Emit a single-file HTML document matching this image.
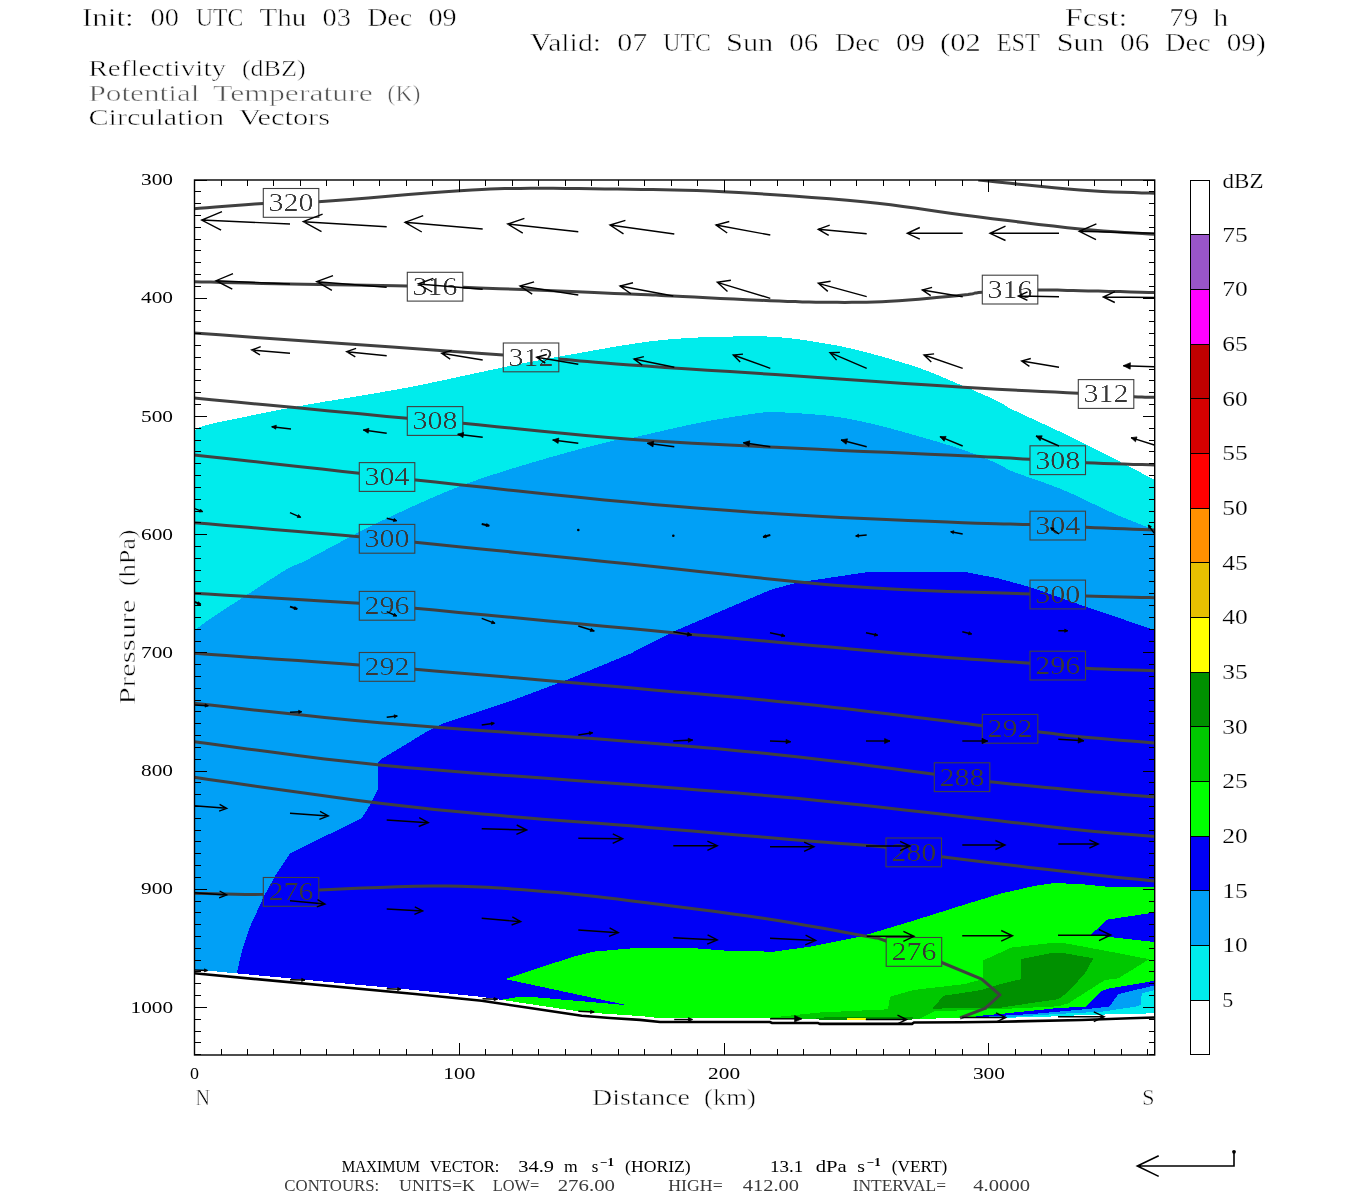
<!DOCTYPE html>
<html lang="en"><head><meta charset="utf-8"><title>Cross section: Reflectivity, Potential Temperature, Circulation Vectors</title>
<style>html,body{margin:0;padding:0;background:#fff}svg{display:block}</style></head>
<body>
<svg width="1350" height="1200" viewBox="0 0 1350 1200" font-family="'Liberation Serif', serif">
<rect width="1350" height="1200" fill="#fff"/>
<defs><clipPath id="pc"><rect x="194.5" y="180.0" width="960.2" height="875.0"/></clipPath></defs>
<g clip-path="url(#pc)" shape-rendering="crispEdges">
<polygon points="194.0,430.5 200.0,427.0 213.3,423.3 219.9,422.0 228.4,420.2 238.6,418.1 250.0,415.8 262.2,413.3 274.9,410.8 287.6,408.3 300.0,406.0 312.4,403.8 325.5,401.5 339.0,399.3 352.7,397.0 366.5,394.8 380.3,392.4 393.7,390.1 406.7,387.7 419.5,385.2 432.5,382.5 445.5,379.8 458.2,377.0 470.5,374.3 482.3,371.8 493.3,369.4 503.3,367.3 512.1,365.5 519.7,364.0 526.4,362.7 532.6,361.5 538.6,360.4 544.7,359.2 551.3,358.0 558.7,356.7 567.0,355.2 576.1,353.6 585.5,351.9 595.1,350.2 604.6,348.5 613.8,346.9 622.3,345.5 630.0,344.3 636.7,343.3 642.6,342.4 648.0,341.7 653.0,341.0 657.8,340.5 662.7,339.9 667.8,339.5 673.3,339.0 679.2,338.6 685.2,338.2 691.4,337.8 697.7,337.5 704.0,337.2 710.4,337.0 716.8,336.8 723.3,336.7 729.8,336.6 736.4,336.4 743.1,336.3 749.8,336.2 756.5,336.3 763.3,336.4 770.0,336.6 776.7,337.0 783.5,337.6 790.3,338.3 797.3,339.2 804.2,340.1 811.0,341.1 817.6,342.2 824.0,343.3 830.0,344.3 835.6,345.3 840.7,346.3 845.5,347.3 850.2,348.3 854.9,349.4 859.6,350.6 864.6,351.9 870.0,353.3 875.8,354.9 882.0,356.6 888.3,358.4 894.8,360.3 901.3,362.2 907.7,364.2 914.0,366.3 920.0,368.3 925.8,370.4 931.5,372.6 937.2,374.9 942.7,377.2 948.1,379.5 953.3,381.7 958.4,383.9 963.3,386.0 968.1,388.0 972.7,390.0 977.3,392.0 981.7,393.9 985.8,395.7 989.8,397.5 993.4,399.1 996.7,400.7 999.4,402.0 1001.2,403.1 1002.7,404.0 1004.0,404.8 1005.4,405.7 1007.2,406.8 1009.7,408.2 1013.3,410.0 1018.0,412.2 1023.5,414.8 1029.6,417.6 1036.2,420.7 1043.1,423.8 1050.0,427.0 1056.8,430.2 1063.3,433.3 1069.6,436.4 1076.0,439.5 1082.4,442.7 1088.8,445.9 1095.2,449.1 1101.4,452.2 1107.5,455.3 1113.3,458.3 1119.2,461.3 1125.2,464.5 1131.3,467.6 1137.1,470.7 1142.6,473.6 1147.5,476.2 1151.6,478.3 1154.7,480.0 1154.7,1017.5 1130.0,1018.3 1081.7,1020.0 1001.7,1021.7 961.7,1022.3 914.0,1022.5 912.0,1023.9 820.0,1023.9 818.0,1023.0 772.0,1023.0 770.0,1022.0 660.0,1022.0 640.0,1019.9 610.0,1018.0 581.7,1015.8 530.0,1008.0 481.7,1000.8 415.0,994.0 194.0,973.3" fill="#00ECEC"/>
<polygon points="194.0,630.7 195.4,629.7 197.1,628.4 199.2,626.8 201.6,625.1 204.2,623.1 207.0,621.1 210.1,618.9 213.3,616.7 216.8,614.4 220.5,611.9 224.5,609.3 228.7,606.6 233.1,603.8 237.6,600.9 242.1,598.0 246.7,595.0 251.5,591.9 256.7,588.5 262.1,584.9 267.5,581.4 272.9,577.9 278.0,574.7 282.6,571.8 286.7,569.3 289.8,567.6 291.9,566.5 293.3,565.9 294.6,565.4 296.2,564.9 298.4,564.0 301.8,562.4 306.7,560.0 313.2,556.6 321.0,552.4 329.8,547.7 339.4,542.6 349.4,537.2 359.7,531.8 370.0,526.6 380.0,521.7 389.9,517.0 400.1,512.2 410.5,507.4 421.0,502.6 431.6,498.0 442.2,493.4 452.8,489.1 463.3,485.0 473.8,481.1 484.5,477.4 495.3,473.9 506.0,470.5 516.7,467.2 527.0,464.1 537.1,461.1 546.7,458.3 556.2,455.6 565.7,452.9 575.1,450.4 584.2,448.0 592.7,445.8 600.6,443.8 607.5,442.1 613.3,440.7 617.4,439.8 619.8,439.3 621.0,439.2 621.6,439.3 622.3,439.5 623.5,439.4 625.9,439.1 630.0,438.3 636.0,437.0 643.3,435.3 651.6,433.4 660.6,431.3 670.0,429.1 679.3,427.0 688.3,425.0 696.7,423.3 704.8,421.7 713.0,420.2 721.3,418.8 729.4,417.4 737.2,416.2 744.4,415.1 751.0,414.1 756.7,413.3 761.2,412.7 764.5,412.3 767.0,412.1 769.0,411.9 770.9,411.9 773.2,412.0 776.1,412.1 780.0,412.3 785.0,412.5 790.9,412.8 797.2,413.2 804.0,413.6 810.8,414.1 817.6,414.7 824.0,415.3 830.0,416.0 835.4,416.7 840.5,417.4 845.3,418.2 850.0,419.0 854.7,420.0 859.5,421.0 864.6,422.1 870.0,423.3 875.8,424.7 882.0,426.2 888.3,427.9 894.8,429.6 901.3,431.4 907.7,433.2 914.0,435.0 920.0,436.7 925.8,438.4 931.5,440.0 937.2,441.7 942.7,443.4 948.1,445.0 953.3,446.7 958.4,448.3 963.3,450.0 968.1,451.7 972.7,453.4 977.3,455.2 981.7,457.0 985.8,458.7 989.8,460.3 993.4,461.9 996.7,463.3 999.4,464.5 1001.2,465.5 1002.7,466.4 1004.0,467.2 1005.4,468.0 1007.2,469.0 1009.7,470.2 1013.3,471.7 1018.0,473.5 1023.5,475.5 1029.6,477.6 1036.2,479.9 1043.1,482.3 1050.0,484.8 1056.8,487.4 1063.3,490.0 1069.6,492.7 1076.0,495.6 1082.4,498.7 1088.8,501.8 1095.2,504.8 1101.4,507.8 1107.5,510.7 1113.3,513.3 1119.2,515.8 1125.2,518.3 1131.3,520.8 1137.1,523.1 1142.6,525.3 1147.5,527.2 1151.6,528.8 1154.7,530.0 1154.7,1017.5 1130.0,1018.3 1081.7,1020.0 1001.7,1021.7 961.7,1022.3 914.0,1022.5 912.0,1023.9 820.0,1023.9 818.0,1023.0 772.0,1023.0 770.0,1022.0 660.0,1022.0 640.0,1019.9 610.0,1018.0 581.7,1015.8 530.0,1008.0 481.7,1000.8 415.0,994.0 194.0,973.3" fill="#01A0F6"/>
<polygon points="237.0,972.0 241.7,951.7 250.0,926.7 264.2,895.8 276.7,873.3 290.0,853.3 361.7,818.3 370.0,805.0 377.7,789.3 377.7,763.3 380.0,760.0 426.7,731.7 443.3,723.3 513.3,700.0 566.7,680.0 630.0,653.8 673.3,631.7 770.0,590.0 796.7,582.7 870.0,571.7 963.3,571.7 996.7,578.0 1030.0,587.0 1085.7,606.7 1130.0,621.7 1154.7,630.0 1154.7,1017.5 1130.0,1018.3 1081.7,1020.0 1001.7,1021.7 961.7,1022.3 914.0,1022.5 912.0,1023.9 820.0,1023.9 818.0,1023.0 772.0,1023.0 770.0,1022.0 660.0,1022.0 640.0,1019.9 610.0,1018.0 581.7,1015.8 530.0,1008.0 481.7,1000.8 415.0,994.0 237.0,977.3" fill="#0000F6"/>
<polygon points="505.0,979.0 573.3,956.7 593.3,951.7 630.0,948.5 636.7,947.7 686.7,947.7 726.7,950.7 773.3,951.7 810.0,946.7 860.0,936.7 910.0,921.7 963.3,905.0 1001.7,893.3 1035.0,885.8 1055.0,883.0 1081.7,884.2 1106.7,886.7 1154.7,886.7 1154.7,980.8 1110.0,988.3 1101.7,990.8 1085.8,1006.7 1058.3,1008.3 1001.7,1014.2 980.0,1015.8 960.0,1019.0 914.0,1022.5 912.0,1023.9 820.0,1023.9 818.0,1023.0 772.0,1023.0 770.0,1022.0 660.0,1022.0 640.0,1019.9 610.0,1018.0 581.7,1015.8 530.0,1008.0 497.0,1003.0 498.3,1000.3 518.3,997.0 538.3,997.5 627.3,1005.2" fill="#00FF00"/>
<polygon points="1154.7,912.5 1106.7,919.7 1090.8,935.0 1110.0,937.0 1154.7,942.0" fill="#0000F6"/>
<polygon points="746.7,1020.0 820.0,1012.5 888.0,1009.3 890.0,996.7 913.3,990.0 935.0,987.5 965.0,984.0 983.3,979.0 983.3,960.3 1011.7,947.5 1051.7,943.0 1065.0,943.3 1101.7,950.0 1131.7,955.8 1149.2,959.2 1118.3,978.3 1105.0,980.0 1068.3,1003.3 1058.3,1006.3 1001.7,1009.0 956.7,1010.5 935.0,1011.0 915.0,1021.0 800.0,1023.0" fill="#00C800"/>
<polygon points="932.5,1008.7 943.3,995.8 981.7,990.0 1000.0,984.2 1020.8,979.2 1020.8,959.2 1051.7,953.0 1065.0,953.3 1093.3,958.3 1085.0,973.3 1068.3,991.7 1058.3,999.2 1035.0,1002.5 1001.7,1007.5 951.7,1008.3" fill="#009000"/>
<polygon points="808.0,1019.5 830.0,1016.7 913.0,1016.7 913.0,1022.0 808.0,1022.0" fill="#009000"/>
<polygon points="846.7,1017.6 865.8,1017.6 865.8,1021.0 846.7,1021.0" fill="#FFFF00"/>
<polygon points="980.0,1015.8 1001.7,1013.8 1058.3,1008.0 1085.8,1006.7 1101.7,990.8 1110.0,988.3 1154.7,980.8 1154.7,1019.2 980.0,1019.2" fill="#0000F6"/>
<polygon points="980.0,1017.0 1035.0,1013.8 1085.0,1009.2 1109.2,1006.7 1118.3,994.2 1154.7,985.3 1154.7,1019.2 980.0,1019.2" fill="#01A0F6"/>
<polygon points="1001.7,1017.5 1060.0,1013.8 1101.7,1011.7 1135.0,1006.7 1140.8,1005.0 1141.7,993.3 1154.7,990.0 1154.7,1019.2 1001.7,1019.2" fill="#00ECEC"/>
<polygon points="1028.3,1017.5 1085.0,1015.0 1154.7,1013.3 1154.7,1020.0 1028.3,1020.0" fill="#fff"/>
<polygon points="194.0,1060.0 194.0,972.7 415.0,993.4 481.7,1000.2 530.0,1007.4 581.7,1015.2 610.0,1017.4 640.0,1019.3 660.0,1021.4 770.0,1021.4 772.0,1022.4 818.0,1022.4 820.0,1023.3 912.0,1023.3 914.0,1021.9 961.7,1021.7 1001.7,1021.1 1081.7,1019.4 1130.0,1017.7 1154.7,1016.9 1154.7,1060.0" fill="#fff"/>
<polyline points="194.0,971.1 415.0,991.8 481.7,998.6 530.0,1005.8 581.7,1013.6 610.0,1015.8 640.0,1017.7 660.0,1019.8 770.0,1019.8 772.0,1020.8 818.0,1020.8 820.0,1021.7 912.0,1021.7 914.0,1020.3 961.7,1020.1 1001.7,1019.5 1081.7,1017.8 1130.0,1016.1 1154.7,1015.3" fill="none" stroke="#fff" stroke-width="3.4"/>
</g>
<defs><mask id="lm" maskUnits="userSpaceOnUse" x="0" y="0" width="1350" height="1200"><rect width="1350" height="1200" fill="#fff"/>
<rect x="263.3" y="188.5" width="55.5" height="28.8" fill="#000"/>
<rect x="407.3" y="272.3" width="55.5" height="28.8" fill="#000"/>
<rect x="982.3" y="275.2" width="55.5" height="28.8" fill="#000"/>
<rect x="503.3" y="343.0" width="55.5" height="28.8" fill="#000"/>
<rect x="1078.3" y="379.6" width="55.5" height="28.8" fill="#000"/>
<rect x="407.3" y="406.6" width="55.5" height="28.8" fill="#000"/>
<rect x="1030.0" y="445.8" width="55.5" height="28.8" fill="#000"/>
<rect x="359.3" y="462.6" width="55.5" height="28.8" fill="#000"/>
<rect x="1030.0" y="511.2" width="55.5" height="28.8" fill="#000"/>
<rect x="359.3" y="524.4" width="55.5" height="28.8" fill="#000"/>
<rect x="1030.0" y="580.1" width="55.5" height="28.8" fill="#000"/>
<rect x="359.3" y="591.4" width="55.5" height="28.8" fill="#000"/>
<rect x="1030.0" y="651.2" width="55.5" height="28.8" fill="#000"/>
<rect x="359.3" y="652.5" width="55.5" height="28.8" fill="#000"/>
<rect x="982.3" y="714.4" width="55.5" height="28.8" fill="#000"/>
<rect x="934.3" y="762.8" width="55.5" height="28.8" fill="#000"/>
<rect x="886.0" y="838.0" width="55.5" height="28.8" fill="#000"/>
<rect x="263.3" y="877.5" width="55.5" height="28.8" fill="#000"/>
<rect x="886.2" y="937.5" width="55.5" height="28.8" fill="#000"/>
</mask></defs>
<g clip-path="url(#pc)"><g mask="url(#lm)" fill="none" stroke="#404040" stroke-width="3" stroke-linejoin="round">
<polyline points="978.3,180.0 986.3,180.8 997.2,182.0 1010.2,183.3 1024.5,184.8 1039.4,186.3 1054.1,187.7 1067.9,189.0 1080.0,190.0 1091.1,190.8 1102.3,191.4 1113.3,191.9 1123.7,192.3 1133.3,192.6 1141.9,192.9 1149.1,193.1 1154.7,193.3"/>
<polyline points="194.0,208.7 199.4,208.3 206.8,207.7 215.5,207.0 225.2,206.2 235.3,205.4 245.4,204.7 254.8,204.0 263.3,203.5 270.3,203.2 276.0,203.0 281.2,203.0 286.3,203.0 292.0,202.9 298.8,202.7 307.4,202.3 318.3,201.7 332.4,200.7 349.3,199.4 368.2,197.9 388.2,196.2 408.3,194.6 427.6,193.1 445.1,191.7 460.0,190.7 472.0,190.0 481.8,189.4 490.2,189.0 497.6,188.7 504.7,188.6 512.1,188.5 520.3,188.4 530.0,188.3 541.1,188.3 553.0,188.3 565.6,188.4 578.5,188.5 591.7,188.7 604.8,188.9 617.6,189.1 630.0,189.3 641.7,189.5 652.7,189.6 663.4,189.8 674.1,189.9 685.2,190.2 696.8,190.5 709.4,191.0 723.3,191.7 738.8,192.6 756.0,193.6 774.1,194.7 792.9,196.0 811.7,197.4 830.0,198.8 847.4,200.2 863.3,201.7 877.6,203.2 890.7,204.8 903.0,206.4 914.8,208.1 926.3,209.8 938.1,211.5 950.3,213.3 963.3,215.0 977.4,216.8 992.3,218.7 1007.7,220.6 1023.2,222.5 1038.6,224.4 1053.4,226.1 1067.3,227.7 1080.0,229.0 1091.9,230.1 1103.4,231.0 1114.4,231.8 1124.6,232.5 1134.0,233.0 1142.3,233.5 1149.2,233.9 1154.7,234.2"/>
<polyline points="194.0,281.7 201.3,281.9 210.8,282.1 222.0,282.4 234.7,282.7 248.2,283.1 262.3,283.4 276.3,283.7 290.0,284.0 304.1,284.3 319.3,284.5 335.1,284.8 351.2,285.1 366.9,285.3 381.8,285.6 395.5,285.8 407.3,286.0 416.4,286.2 422.9,286.2 427.7,286.3 431.9,286.4 436.4,286.4 442.4,286.6 450.8,286.9 462.7,287.3 479.1,287.9 499.6,288.7 522.7,289.6 547.1,290.6 571.4,291.6 594.3,292.5 614.3,293.4 630.0,294.0 641.0,294.5 648.2,294.8 652.9,295.0 655.9,295.1 658.4,295.3 661.4,295.4 665.9,295.7 673.0,296.0 682.8,296.5 694.3,297.1 707.0,297.7 720.4,298.4 734.0,299.0 747.1,299.7 759.3,300.2 770.0,300.7 779.3,301.1 787.6,301.4 795.2,301.6 802.3,301.9 809.1,302.0 815.9,302.2 822.8,302.2 830.0,302.3 837.4,302.3 844.7,302.4 851.9,302.3 859.2,302.3 866.5,302.2 874.1,302.0 881.9,301.7 890.0,301.3 898.9,300.7 908.7,300.0 918.9,299.2 929.2,298.3 939.2,297.3 948.5,296.4 956.6,295.7 963.3,295.0 968.0,294.5 971.0,294.1 972.8,293.7 973.9,293.4 974.9,293.1 976.3,292.9 978.6,292.6 982.3,292.3 987.5,292.0 993.8,291.6 1000.8,291.3 1008.3,290.9 1016.0,290.6 1023.6,290.4 1030.8,290.1 1037.3,290.0 1043.0,289.9 1048.1,289.9 1052.8,290.0 1057.4,290.1 1062.2,290.2 1067.4,290.4 1073.2,290.5 1080.0,290.7 1088.3,290.9 1098.2,291.1 1109.0,291.4 1120.0,291.6 1130.8,291.9 1140.5,292.2 1148.7,292.4 1154.7,292.5"/>
<polyline points="194.0,333.0 219.6,334.8 255.5,337.4 298.5,340.4 345.2,343.8 392.3,347.1 436.6,350.2 474.7,353.0 503.3,355.0 522.3,356.3 534.6,357.2 542.0,357.7 545.9,358.0 547.9,358.1 549.7,358.3 552.7,358.5 558.7,359.0 566.2,359.6 573.2,360.2 580.1,360.9 587.4,361.6 595.6,362.3 605.1,363.1 616.4,364.0 630.0,365.0 646.3,366.1 665.0,367.4 685.5,368.7 707.4,370.2 730.0,371.6 752.8,373.1 775.2,374.6 796.7,376.0 817.9,377.4 839.6,378.9 861.4,380.4 883.2,382.0 904.6,383.4 925.3,384.8 944.9,386.1 963.3,387.3 980.6,388.3 997.1,389.2 1012.8,390.1 1027.7,390.8 1041.8,391.5 1054.9,392.1 1067.1,392.7 1078.3,393.3 1088.3,393.9 1097.1,394.4 1105.0,394.9 1111.9,395.3 1118.1,395.7 1123.7,396.1 1128.8,396.4 1133.7,396.7 1138.1,396.9 1141.9,397.1 1145.0,397.2 1147.7,397.2 1149.9,397.2 1151.7,397.3 1153.3,397.3 1154.7,397.3"/>
<polyline points="194.0,398.0 211.5,399.7 236.0,402.0 265.3,404.8 297.2,407.8 329.5,410.9 360.1,413.8 386.7,416.4 407.3,418.3 421.0,419.6 429.6,420.4 434.7,420.8 437.9,421.1 440.7,421.3 444.7,421.6 451.5,422.3 462.7,423.3 478.3,424.8 496.7,426.7 517.3,428.8 539.4,431.1 562.4,433.3 585.6,435.5 608.4,437.6 630.0,439.3 650.9,440.8 671.7,442.1 692.6,443.3 713.4,444.3 734.2,445.3 755.0,446.3 775.9,447.3 796.7,448.3 818.2,449.3 840.7,450.4 863.6,451.4 886.3,452.3 908.1,453.3 928.7,454.2 947.3,455.0 963.3,455.7 976.5,456.3 987.3,456.9 996.1,457.3 1003.6,457.7 1010.2,458.1 1016.4,458.5 1022.9,458.9 1030.0,459.3 1037.4,459.7 1044.4,460.2 1051.1,460.6 1057.7,461.1 1064.3,461.5 1071.1,461.9 1078.2,462.3 1085.7,462.7 1094.2,463.1 1103.6,463.4 1113.6,463.7 1123.7,464.1 1133.3,464.4 1142.0,464.6 1149.3,464.8 1154.7,465.0"/>
<polyline points="194.0,455.0 207.5,456.5 226.3,458.6 248.7,461.0 273.1,463.7 298.0,466.5 321.8,469.1 342.7,471.4 359.3,473.3 370.5,474.6 377.4,475.4 381.5,476.0 384.4,476.4 387.8,476.9 393.1,477.5 401.8,478.5 415.7,480.0 435.3,482.1 459.3,484.7 486.6,487.6 516.0,490.8 546.2,494.0 576.1,497.0 604.4,499.9 630.0,502.3 653.1,504.4 675.0,506.3 696.0,508.0 716.3,509.6 736.3,511.0 756.1,512.4 776.2,513.7 796.7,515.0 818.2,516.2 840.7,517.4 863.6,518.5 886.3,519.5 908.1,520.5 928.7,521.3 947.3,522.0 963.3,522.7 976.5,523.2 987.2,523.6 996.1,523.8 1003.5,524.0 1010.1,524.1 1016.4,524.2 1022.8,524.4 1030.0,524.6 1037.5,524.9 1044.5,525.2 1051.3,525.6 1058.0,525.9 1064.8,526.3 1071.6,526.6 1078.8,527.0 1086.3,527.3 1094.7,527.7 1104.2,528.0 1114.1,528.4 1124.0,528.8 1133.5,529.2 1142.1,529.5 1149.3,529.8 1154.7,530.0"/>
<polyline points="194.0,522.7 207.5,523.8 226.3,525.4 248.7,527.3 273.2,529.4 298.1,531.5 321.8,533.5 342.8,535.3 359.3,536.7 370.4,537.7 377.2,538.3 381.2,538.7 384.0,539.0 387.3,539.4 392.4,540.0 401.2,540.9 415.0,542.3 434.6,544.3 458.7,546.7 486.1,549.4 515.6,552.4 545.9,555.4 575.9,558.5 604.3,561.4 630.0,564.0 653.6,566.5 676.6,568.9 699.0,571.4 720.5,573.7 741.2,576.0 760.8,578.1 779.4,580.0 796.7,581.7 812.2,583.2 825.6,584.4 837.6,585.4 848.8,586.3 859.7,587.1 870.9,587.8 883.1,588.6 896.7,589.3 912.3,590.0 929.5,590.7 947.7,591.4 966.1,592.0 984.2,592.6 1001.4,593.1 1016.8,593.6 1030.0,594.0 1040.6,594.4 1049.1,594.7 1056.0,595.0 1061.9,595.2 1067.2,595.4 1072.7,595.6 1078.6,595.8 1085.7,596.0 1094.2,596.2 1103.6,596.5 1113.6,596.7 1123.7,597.0 1133.3,597.2 1142.0,597.4 1149.3,597.6 1154.7,597.7"/>
<polyline points="194.0,593.3 207.5,594.1 226.3,595.2 248.7,596.5 273.2,598.0 298.1,599.5 321.8,600.9 342.8,602.2 359.3,603.3 370.4,604.1 377.2,604.5 381.2,604.9 384.0,605.2 387.3,605.5 392.4,606.1 401.2,607.0 415.0,608.3 434.6,610.1 458.7,612.4 486.1,615.0 515.6,617.8 545.9,620.7 575.9,623.5 604.3,626.2 630.0,628.6 653.4,630.8 675.9,632.9 697.5,634.9 718.5,636.8 738.8,638.7 758.5,640.5 777.8,642.3 796.7,644.0 815.2,645.7 833.2,647.3 850.6,649.0 867.5,650.5 883.9,652.0 899.8,653.4 915.2,654.7 930.0,656.0 944.4,657.2 958.4,658.2 971.9,659.2 984.9,660.1 997.2,660.9 1008.9,661.7 1019.8,662.5 1030.0,663.3 1039.0,664.1 1046.7,664.8 1053.5,665.5 1059.8,666.1 1065.8,666.7 1071.9,667.3 1078.4,667.8 1085.7,668.3 1094.2,668.7 1103.6,669.1 1113.6,669.5 1123.7,669.8 1133.3,670.1 1142.0,670.3 1149.3,670.5 1154.7,670.7"/>
<polyline points="194.0,653.3 207.5,654.3 226.3,655.6 248.7,657.2 273.2,658.9 298.1,660.6 321.8,662.3 342.8,663.8 359.3,665.0 370.4,665.8 377.2,666.3 381.2,666.5 384.0,666.7 387.3,667.0 392.4,667.4 401.2,668.1 415.0,669.3 434.6,671.0 458.7,673.0 486.1,675.3 515.6,677.8 545.9,680.5 575.9,683.1 604.3,685.5 630.0,687.8 653.4,689.9 675.9,691.9 697.5,693.8 718.5,695.7 738.8,697.6 758.5,699.5 777.8,701.4 796.7,703.3 815.5,705.3 834.3,707.4 852.7,709.6 870.5,711.7 887.4,713.8 903.2,715.7 917.4,717.5 930.0,719.0 940.4,720.3 948.7,721.3 955.4,722.2 961.0,723.0 966.0,723.6 970.9,724.3 976.2,725.0 982.3,725.7 989.2,726.5 996.2,727.3 1003.4,728.0 1010.6,728.8 1017.7,729.6 1024.7,730.3 1031.4,731.0 1037.7,731.7 1043.4,732.4 1048.4,733.0 1053.1,733.6 1057.6,734.2 1062.3,734.8 1067.5,735.4 1073.3,736.0 1080.0,736.7 1088.3,737.5 1098.1,738.3 1108.9,739.2 1120.0,740.2 1130.7,741.0 1140.5,741.8 1148.7,742.5 1154.7,743.0"/>
<polyline points="194.0,703.3 207.9,704.8 225.9,706.8 247.3,709.2 271.4,711.8 297.4,714.6 324.6,717.4 352.4,720.2 380.0,722.7 408.8,725.1 440.0,727.5 472.7,729.9 506.2,732.3 539.5,734.7 571.9,737.0 602.3,739.2 630.0,741.4 655.0,743.5 678.2,745.4 699.9,747.3 720.4,749.1 740.0,750.9 759.0,752.8 777.8,754.7 796.7,756.7 815.9,758.9 835.1,761.2 854.0,763.6 872.4,766.0 890.0,768.3 906.3,770.6 921.2,772.6 934.3,774.3 944.9,775.7 953.2,776.8 959.7,777.8 965.1,778.5 970.2,779.3 975.6,780.0 982.0,780.8 990.0,781.7 999.7,782.8 1010.4,783.9 1021.9,785.1 1033.8,786.3 1045.9,787.5 1057.8,788.6 1069.2,789.7 1080.0,790.7 1090.6,791.7 1101.5,792.6 1112.4,793.5 1123.0,794.4 1132.8,795.2 1141.6,795.9 1149.0,796.5 1154.7,797.0"/>
<polyline points="194.0,741.7 207.9,743.5 225.9,746.0 247.3,748.9 271.4,752.1 297.4,755.5 324.6,758.9 352.4,762.1 380.0,765.0 408.8,767.7 440.0,770.3 472.7,772.9 506.2,775.4 539.5,777.8 571.9,780.2 602.3,782.5 630.0,784.6 654.8,786.6 677.5,788.3 698.6,790.0 718.6,791.5 737.9,793.1 757.0,794.7 776.4,796.4 796.7,798.3 817.9,800.4 839.5,802.7 861.4,805.1 883.1,807.5 904.5,810.0 925.2,812.3 944.9,814.6 963.3,816.7 980.6,818.7 997.0,820.5 1012.6,822.4 1027.4,824.1 1041.5,825.7 1054.9,827.3 1067.8,828.7 1080.0,830.0 1091.9,831.2 1103.4,832.3 1114.4,833.2 1124.6,834.1 1134.0,834.8 1142.3,835.5 1149.2,836.0 1154.7,836.5"/>
<polyline points="194.0,777.3 208.7,779.4 228.7,782.3 252.4,785.7 278.7,789.5 305.9,793.3 332.8,797.1 358.0,800.5 380.0,803.3 399.3,805.6 417.4,807.6 434.6,809.4 451.0,811.1 466.8,812.5 482.4,813.9 497.8,815.3 513.3,816.7 528.3,818.0 542.5,819.2 556.1,820.2 569.6,821.2 583.3,822.2 597.7,823.3 613.1,824.4 630.0,825.8 649.0,827.4 670.0,829.2 692.3,831.1 715.1,833.0 737.7,835.0 759.3,836.8 779.2,838.5 796.7,840.0 811.8,841.2 825.3,842.3 837.3,843.2 848.3,843.9 858.4,844.7 867.9,845.5 877.0,846.3 886.0,847.3 894.0,848.3 900.4,849.3 905.7,850.4 910.8,851.4 916.2,852.6 922.8,853.8 931.0,855.2 941.7,856.7 955.5,858.5 972.0,860.6 990.3,862.8 1009.7,865.1 1029.2,867.4 1048.0,869.6 1065.2,871.6 1080.0,873.3 1092.9,874.7 1104.9,876.0 1116.0,877.2 1126.0,878.2 1135.0,879.1 1142.8,879.8 1149.4,880.5 1154.7,881.0"/>
<polyline points="194.0,893.3 199.4,893.4 206.8,893.6 215.5,893.8 225.2,894.1 235.3,894.3 245.4,894.4 254.8,894.4 263.3,894.3 270.4,894.0 276.3,893.6 281.7,893.1 287.1,892.5 292.9,891.8 299.7,891.2 308.0,890.6 318.3,890.0 331.0,889.4 345.9,888.8 362.3,888.1 379.7,887.4 397.4,886.8 414.9,886.3 431.5,886.0 446.7,886.0 460.7,886.2 474.1,886.7 487.0,887.3 499.5,888.0 511.7,888.9 523.5,889.8 535.2,890.8 546.7,891.7 557.6,892.6 567.5,893.5 577.0,894.5 586.3,895.5 595.8,896.6 606.1,897.8 617.3,899.1 630.0,900.7 644.5,902.5 660.6,904.5 677.8,906.7 695.6,909.0 713.6,911.3 731.1,913.7 747.9,916.1 763.3,918.3 777.9,920.6 792.5,922.9 806.6,925.4 820.2,927.8 832.9,930.1 844.5,932.2 854.7,934.1 863.3,935.7 869.6,936.8 873.6,937.5 876.0,937.9 877.4,938.1 878.5,938.4 879.8,938.8 882.1,939.6 886.0,941.0 891.8,943.1 898.9,945.7 906.9,948.8 915.3,952.1 923.4,955.3 930.9,958.3 937.2,960.7 941.7,962.5 981.7,979.2 1000.0,995.0 985.0,1008.3 960.0,1018.0"/>
</g>
<g fill="none" stroke="#404040" stroke-width="1.1">
<rect x="263.3" y="188.5" width="55.5" height="28.8"/>
<rect x="407.3" y="272.3" width="55.5" height="28.8"/>
<rect x="982.3" y="275.2" width="55.5" height="28.8"/>
<rect x="503.3" y="343.0" width="55.5" height="28.8"/>
<rect x="1078.3" y="379.6" width="55.5" height="28.8"/>
<rect x="407.3" y="406.6" width="55.5" height="28.8"/>
<rect x="1030.0" y="445.8" width="55.5" height="28.8"/>
<rect x="359.3" y="462.6" width="55.5" height="28.8"/>
<rect x="1030.0" y="511.2" width="55.5" height="28.8"/>
<rect x="359.3" y="524.4" width="55.5" height="28.8"/>
<rect x="1030.0" y="580.1" width="55.5" height="28.8"/>
<rect x="359.3" y="591.4" width="55.5" height="28.8"/>
<rect x="1030.0" y="651.2" width="55.5" height="28.8"/>
<rect x="359.3" y="652.5" width="55.5" height="28.8"/>
<rect x="982.3" y="714.4" width="55.5" height="28.8"/>
<rect x="934.3" y="762.8" width="55.5" height="28.8"/>
<rect x="886.0" y="838.0" width="55.5" height="28.8"/>
<rect x="263.3" y="877.5" width="55.5" height="28.8"/>
<rect x="886.2" y="937.5" width="55.5" height="28.8"/>
</g>
<defs><filter id="thin" x="-5%" y="-5%" width="110%" height="110%" color-interpolation-filters="sRGB"><feComponentTransfer><feFuncA type="linear" slope="1.7" intercept="-0.62"/></feComponentTransfer></filter></defs>
<g fill="#383838" font-size="24.5" filter="url(#thin)">
<text x="268.5" y="211.3" textLength="45" lengthAdjust="spacingAndGlyphs">320</text>
<text x="412.5" y="295.1" textLength="45" lengthAdjust="spacingAndGlyphs">316</text>
<text x="987.5" y="298.0" textLength="45" lengthAdjust="spacingAndGlyphs">316</text>
<text x="508.5" y="365.8" textLength="45" lengthAdjust="spacingAndGlyphs">312</text>
<text x="1083.5" y="402.4" textLength="45" lengthAdjust="spacingAndGlyphs">312</text>
<text x="412.5" y="429.4" textLength="45" lengthAdjust="spacingAndGlyphs">308</text>
<text x="1035.2" y="468.6" textLength="45" lengthAdjust="spacingAndGlyphs">308</text>
<text x="364.5" y="485.4" textLength="45" lengthAdjust="spacingAndGlyphs">304</text>
<text x="1035.2" y="534.0" textLength="45" lengthAdjust="spacingAndGlyphs">304</text>
<text x="364.5" y="547.2" textLength="45" lengthAdjust="spacingAndGlyphs">300</text>
<text x="1035.2" y="602.9" textLength="45" lengthAdjust="spacingAndGlyphs">300</text>
<text x="364.5" y="614.2" textLength="45" lengthAdjust="spacingAndGlyphs">296</text>
<text x="1035.2" y="674.0" textLength="45" lengthAdjust="spacingAndGlyphs">296</text>
<text x="364.5" y="675.3" textLength="45" lengthAdjust="spacingAndGlyphs">292</text>
<text x="987.5" y="737.2" textLength="45" lengthAdjust="spacingAndGlyphs">292</text>
<text x="939.5" y="785.6" textLength="45" lengthAdjust="spacingAndGlyphs">288</text>
<text x="891.2" y="860.8" textLength="45" lengthAdjust="spacingAndGlyphs">280</text>
<text x="268.5" y="900.3" textLength="45" lengthAdjust="spacingAndGlyphs">276</text>
<text x="891.4" y="960.3" textLength="45" lengthAdjust="spacingAndGlyphs">276</text>
</g>
<g stroke-linecap="butt">
<path d="M290.0 224.0L201.7 220.0M222.0 211.6L201.7 220.0L221.1 230.2" stroke="#000" stroke-width="1.4" fill="none"/>
<path d="M386.7 226.7L303.3 221.7M322.6 214.1L303.3 221.7L321.5 231.6" stroke="#000" stroke-width="1.4" fill="none"/>
<path d="M482.7 229.0L405.0 222.3M423.2 215.6L405.0 222.3L421.8 232.0" stroke="#000" stroke-width="1.4" fill="none"/>
<path d="M578.3 231.7L507.7 224.0M524.4 218.3L507.7 224.0L522.8 233.1" stroke="#000" stroke-width="1.4" fill="none"/>
<path d="M674.3 234.0L610.0 225.0M625.4 220.3L610.0 225.0L623.5 233.8" stroke="#000" stroke-width="1.4" fill="none"/>
<path d="M770.3 235.0L716.0 225.0M729.3 221.5L716.0 225.0L727.2 233.0" stroke="#000" stroke-width="1.4" fill="none"/>
<path d="M866.7 233.7L818.3 229.3M829.7 225.2L818.3 229.3L828.7 235.4" stroke="#000" stroke-width="1.4" fill="none"/>
<path d="M962.7 233.3L907.3 233.3M919.8 227.5L907.3 233.3L919.8 239.1" stroke="#000" stroke-width="1.4" fill="none"/>
<path d="M1059.0 233.3L990.0 233.3M1005.5 226.1L990.0 233.3L1005.5 240.5" stroke="#000" stroke-width="1.4" fill="none"/>
<path d="M1154.7 233.3L1079.2 231.3M1096.4 223.8L1079.2 231.3L1096.0 239.7" stroke="#000" stroke-width="1.4" fill="none"/>
<path d="M290.0 284.0L216.0 280.7M233.0 273.7L216.0 280.7L232.3 289.2" stroke="#000" stroke-width="1.4" fill="none"/>
<path d="M386.7 287.3L316.7 281.7M333.0 275.6L316.7 281.7L331.9 290.3" stroke="#000" stroke-width="1.4" fill="none"/>
<path d="M482.7 289.3L418.3 284.0M433.3 278.4L418.3 284.0L432.2 292.0" stroke="#000" stroke-width="1.4" fill="none"/>
<path d="M578.3 295.0L520.0 286.0M534.1 281.9L520.0 286.0L532.2 294.1" stroke="#000" stroke-width="1.4" fill="none"/>
<path d="M673.3 296.0L620.0 286.0M633.0 282.7L620.0 286.0L630.9 293.8" stroke="#000" stroke-width="1.4" fill="none"/>
<path d="M770.3 298.3L717.3 282.3M730.9 280.3L717.3 282.3L727.5 291.5" stroke="#000" stroke-width="1.4" fill="none"/>
<path d="M866.7 296.7L818.3 283.3M830.6 281.2L818.3 283.3L827.8 291.4" stroke="#000" stroke-width="1.4" fill="none"/>
<path d="M962.7 296.7L922.3 290.0M932.1 287.3L922.3 290.0L930.7 295.7" stroke="#000" stroke-width="1.4" fill="none"/>
<path d="M1059.0 296.7L1018.3 296.0M1027.5 291.9L1018.3 296.0L1027.4 300.4" stroke="#000" stroke-width="1.4" fill="none"/>
<path d="M1154.7 297.5L1103.3 297.0M1114.9 291.7L1103.3 297.0L1114.8 302.5" stroke="#000" stroke-width="1.4" fill="none"/>
<path d="M290.0 353.3L251.7 350.0M260.7 346.7L251.7 350.0L260.0 354.8" stroke="#000" stroke-width="1.4" fill="none"/>
<path d="M386.7 355.7L346.7 351.7M356.1 348.4L346.7 351.7L355.3 356.8" stroke="#000" stroke-width="1.4" fill="none"/>
<path d="M482.7 360.0L441.7 353.3M451.6 350.5L441.7 353.3L450.2 359.1" stroke="#000" stroke-width="1.4" fill="none"/>
<path d="M578.3 364.3L536.7 357.3M546.8 354.5L536.7 357.3L545.3 363.2" stroke="#000" stroke-width="1.4" fill="none"/>
<path d="M674.3 367.3L634.0 359.0M643.9 356.6L634.0 359.0L642.2 365.1" stroke="#000" stroke-width="1.4" fill="none"/>
<path d="M770.3 368.3L733.3 355.0M743.0 354.1L733.3 355.0L740.2 361.9" stroke="#000" stroke-width="1.4" fill="none"/>
<path d="M866.7 368.3L830.0 352.7M839.9 352.4L830.0 352.7L836.6 360.1" stroke="#000" stroke-width="1.4" fill="none"/>
<path d="M962.7 368.3L924.0 355.0M934.1 353.9L924.0 355.0L931.3 362.1" stroke="#000" stroke-width="1.4" fill="none"/>
<path d="M1059.0 367.3L1021.7 361.0M1030.8 358.5L1021.7 361.0L1029.4 366.3" stroke="#000" stroke-width="1.4" fill="none"/>
<path d="M1154.3 366.7L1123.3 365.7" stroke="#000" stroke-width="1.4" fill="none"/><path d="M1130.4 362.7L1123.3 365.7L1130.2 369.2Z" fill="#000" stroke="#000" stroke-width="0.7"/>
<path d="M291.0 429.0L271.7 426.7" stroke="#000" stroke-width="1.4" fill="none"/><path d="M276.3 425.2L271.7 426.7L275.8 429.2Z" fill="#000" stroke="#000" stroke-width="0.7"/>
<path d="M386.7 433.3L363.3 430.0" stroke="#000" stroke-width="1.4" fill="none"/><path d="M368.9 428.3L363.3 430.0L368.2 433.2Z" fill="#000" stroke="#000" stroke-width="0.7"/>
<path d="M482.7 437.3L457.7 434.3" stroke="#000" stroke-width="1.4" fill="none"/><path d="M463.6 432.4L457.7 434.3L463.0 437.6Z" fill="#000" stroke="#000" stroke-width="0.7"/>
<path d="M578.3 443.3L552.7 440.0" stroke="#000" stroke-width="1.4" fill="none"/><path d="M558.8 438.1L552.7 440.0L558.1 443.4Z" fill="#000" stroke="#000" stroke-width="0.7"/>
<path d="M674.3 446.7L647.3 443.3" stroke="#000" stroke-width="1.4" fill="none"/><path d="M653.7 441.2L647.3 443.3L653.0 446.9Z" fill="#000" stroke="#000" stroke-width="0.7"/>
<path d="M770.3 446.7L743.3 442.7" stroke="#000" stroke-width="1.4" fill="none"/><path d="M749.8 440.8L743.3 442.7L749.0 446.4Z" fill="#000" stroke="#000" stroke-width="0.7"/>
<path d="M866.7 446.7L841.0 440.0" stroke="#000" stroke-width="1.4" fill="none"/><path d="M847.5 438.8L841.0 440.0L846.1 444.2Z" fill="#000" stroke="#000" stroke-width="0.7"/>
<path d="M962.7 446.0L940.0 436.7" stroke="#000" stroke-width="1.4" fill="none"/><path d="M946.1 436.4L940.0 436.7L944.1 441.2Z" fill="#000" stroke="#000" stroke-width="0.7"/>
<path d="M1059.0 446.0L1036.0 436.0" stroke="#000" stroke-width="1.4" fill="none"/><path d="M1042.2 435.8L1036.0 436.0L1040.1 440.7Z" fill="#000" stroke="#000" stroke-width="0.7"/>
<path d="M1154.3 445.0L1131.0 437.7" stroke="#000" stroke-width="1.4" fill="none"/><path d="M1137.0 436.9L1131.0 437.7L1135.5 441.8Z" fill="#000" stroke="#000" stroke-width="0.7"/>
<path d="M194.0 508.3L202.7 511.7" stroke="#000" stroke-width="1.4" fill="none"/><path d="M199.3 512.1L202.7 511.7L200.5 509.1Z" fill="#000" stroke="#000" stroke-width="0.7"/>
<path d="M290.0 512.7L300.7 517.3" stroke="#000" stroke-width="1.4" fill="none"/><path d="M297.3 517.6L300.7 517.3L298.6 514.6Z" fill="#000" stroke="#000" stroke-width="0.7"/>
<path d="M386.7 518.3L396.7 520.7" stroke="#000" stroke-width="1.4" fill="none"/><path d="M393.4 521.6L396.7 520.7L394.2 518.4Z" fill="#000" stroke="#000" stroke-width="0.7"/>
<path d="M481.7 524.0L489.3 525.7" stroke="#000" stroke-width="1.9" fill="none"/><path d="M486.0 526.6L489.3 525.7L486.7 523.5Z" fill="#000" stroke="#000" stroke-width="0.7"/>
<circle cx="578.3" cy="530.0" r="1.3" fill="#000"/>
<circle cx="673.3" cy="535.7" r="1.3" fill="#000"/>
<path d="M770.3 535.0L763.0 537.0" stroke="#000" stroke-width="1.9" fill="none"/><path d="M765.5 534.7L763.0 537.0L766.3 537.8Z" fill="#000" stroke="#000" stroke-width="0.7"/>
<path d="M866.7 535.0L855.7 536.0" stroke="#000" stroke-width="1.4" fill="none"/><path d="M858.5 534.1L855.7 536.0L858.8 537.3Z" fill="#000" stroke="#000" stroke-width="0.7"/>
<path d="M962.7 534.0L950.7 531.7" stroke="#000" stroke-width="1.4" fill="none"/><path d="M953.9 530.7L950.7 531.7L953.3 533.8Z" fill="#000" stroke="#000" stroke-width="0.7"/>
<path d="M1059.0 534.0L1050.7 527.7" stroke="#000" stroke-width="1.4" fill="none"/><path d="M1054.1 528.2L1050.7 527.7L1052.1 530.8Z" fill="#000" stroke="#000" stroke-width="0.7"/>
<path d="M1154.3 533.3L1148.3 525.0" stroke="#000" stroke-width="1.4" fill="none"/><path d="M1151.4 526.5L1148.3 525.0L1148.8 528.4Z" fill="#000" stroke="#000" stroke-width="0.7"/>
<path d="M194.0 601.7L200.7 604.3" stroke="#000" stroke-width="1.9" fill="none"/><path d="M197.3 604.7L200.7 604.3L198.5 601.7Z" fill="#000" stroke="#000" stroke-width="0.7"/>
<path d="M290.0 606.7L297.3 609.0" stroke="#000" stroke-width="1.9" fill="none"/><path d="M294.0 609.6L297.3 609.0L294.9 606.6Z" fill="#000" stroke="#000" stroke-width="0.7"/>
<path d="M386.7 611.7L396.7 616.0" stroke="#000" stroke-width="1.4" fill="none"/><path d="M393.3 616.3L396.7 616.0L394.6 613.3Z" fill="#000" stroke="#000" stroke-width="0.7"/>
<path d="M481.7 618.3L495.0 623.3" stroke="#000" stroke-width="1.4" fill="none"/><path d="M491.4 623.7L495.0 623.3L492.6 620.7Z" fill="#000" stroke="#000" stroke-width="0.7"/>
<path d="M578.3 626.0L594.3 631.0" stroke="#000" stroke-width="1.4" fill="none"/><path d="M590.2 631.6L594.3 631.0L591.2 628.2Z" fill="#000" stroke="#000" stroke-width="0.7"/>
<path d="M673.3 631.7L691.7 635.0" stroke="#000" stroke-width="1.4" fill="none"/><path d="M687.2 636.2L691.7 635.0L687.9 632.3Z" fill="#000" stroke="#000" stroke-width="0.7"/>
<path d="M770.0 632.7L785.0 636.0" stroke="#000" stroke-width="1.4" fill="none"/><path d="M781.3 636.8L785.0 636.0L782.0 633.7Z" fill="#000" stroke="#000" stroke-width="0.7"/>
<path d="M866.0 632.7L877.7 635.3" stroke="#000" stroke-width="1.4" fill="none"/><path d="M874.4 636.2L877.7 635.3L875.1 633.1Z" fill="#000" stroke="#000" stroke-width="0.7"/>
<path d="M962.3 631.7L971.7 634.0" stroke="#000" stroke-width="1.4" fill="none"/><path d="M968.4 634.8L971.7 634.0L969.2 631.7Z" fill="#000" stroke="#000" stroke-width="0.7"/>
<path d="M1058.3 630.7L1067.7 630.7" stroke="#000" stroke-width="1.4" fill="none"/><path d="M1064.7 632.3L1067.7 630.7L1064.7 629.1Z" fill="#000" stroke="#000" stroke-width="0.7"/>
<path d="M194.0 705.0L208.3 705.7" stroke="#000" stroke-width="1.4" fill="none"/><path d="M205.0 707.1L208.3 705.7L205.2 703.9Z" fill="#000" stroke="#000" stroke-width="0.7"/>
<path d="M290.0 712.3L301.7 711.7" stroke="#000" stroke-width="1.4" fill="none"/><path d="M298.8 713.5L301.7 711.7L298.6 710.3Z" fill="#000" stroke="#000" stroke-width="0.7"/>
<path d="M386.7 717.3L397.3 716.0" stroke="#000" stroke-width="1.4" fill="none"/><path d="M394.5 718.0L397.3 716.0L394.1 714.8Z" fill="#000" stroke="#000" stroke-width="0.7"/>
<path d="M481.7 725.0L494.3 723.3" stroke="#000" stroke-width="1.4" fill="none"/><path d="M491.5 725.3L494.3 723.3L491.1 722.1Z" fill="#000" stroke="#000" stroke-width="0.7"/>
<path d="M578.3 735.0L592.7 732.7" stroke="#000" stroke-width="1.4" fill="none"/><path d="M589.7 734.8L592.7 732.7L589.2 731.6Z" fill="#000" stroke="#000" stroke-width="0.7"/>
<path d="M673.3 741.0L692.7 740.0" stroke="#000" stroke-width="1.4" fill="none"/><path d="M688.4 742.3L692.7 740.0L688.2 738.2Z" fill="#000" stroke="#000" stroke-width="0.7"/>
<path d="M770.0 741.0L790.7 741.7" stroke="#000" stroke-width="1.4" fill="none"/><path d="M786.0 743.7L790.7 741.7L786.1 739.4Z" fill="#000" stroke="#000" stroke-width="0.7"/>
<path d="M866.0 741.0L890.0 741.0" stroke="#000" stroke-width="1.4" fill="none"/><path d="M884.6 743.5L890.0 741.0L884.6 738.5Z" fill="#000" stroke="#000" stroke-width="0.7"/>
<path d="M962.3 741.0L987.7 741.0" stroke="#000" stroke-width="1.4" fill="none"/><path d="M982.0 743.7L987.7 741.0L982.0 738.3Z" fill="#000" stroke="#000" stroke-width="0.7"/>
<path d="M1058.3 739.3L1084.0 740.7" stroke="#000" stroke-width="1.4" fill="none"/><path d="M1078.1 743.1L1084.0 740.7L1078.4 737.7Z" fill="#000" stroke="#000" stroke-width="0.7"/>
<path d="M194.0 805.7L226.7 808.3M219.1 811.1L226.7 808.3L219.6 804.3" stroke="#000" stroke-width="1.4" fill="none"/>
<path d="M290.0 813.3L328.3 816.0M319.4 819.4L328.3 816.0L320.0 811.4" stroke="#000" stroke-width="1.4" fill="none"/>
<path d="M386.7 820.0L428.3 822.7M418.7 826.5L428.3 822.7L419.2 817.7" stroke="#000" stroke-width="1.4" fill="none"/>
<path d="M481.7 828.7L526.7 830.0M516.4 834.4L526.7 830.0L516.7 825.0" stroke="#000" stroke-width="1.4" fill="none"/>
<path d="M578.3 838.3L622.7 838.7M612.7 843.3L622.7 838.7L612.8 833.9" stroke="#000" stroke-width="1.4" fill="none"/>
<path d="M673.3 845.7L717.3 845.7M707.4 850.3L717.3 845.7L707.4 841.1" stroke="#000" stroke-width="1.4" fill="none"/>
<path d="M770.0 846.7L814.0 846.7M804.1 851.3L814.0 846.7L804.1 842.1" stroke="#000" stroke-width="1.4" fill="none"/>
<path d="M866.0 846.0L910.0 846.0M900.1 850.6L910.0 846.0L900.1 841.4" stroke="#000" stroke-width="1.4" fill="none"/>
<path d="M962.3 845.0L1005.0 845.0M995.4 849.5L1005.0 845.0L995.4 840.5" stroke="#000" stroke-width="1.4" fill="none"/>
<path d="M1058.3 844.0L1098.3 844.0M1089.3 848.2L1098.3 844.0L1089.3 839.8" stroke="#000" stroke-width="1.4" fill="none"/>
<path d="M194.0 892.7L226.7 895.0M219.1 897.9L226.7 895.0L219.6 891.0" stroke="#000" stroke-width="1.4" fill="none"/>
<path d="M290.0 900.7L325.0 904.0M316.8 906.9L325.0 904.0L317.5 899.6" stroke="#000" stroke-width="1.4" fill="none"/>
<path d="M386.7 909.0L422.7 911.0M414.4 914.3L422.7 911.0L414.8 906.8" stroke="#000" stroke-width="1.4" fill="none"/>
<path d="M481.7 918.3L520.7 921.7M511.6 925.0L520.7 921.7L512.3 916.8" stroke="#000" stroke-width="1.4" fill="none"/>
<path d="M578.3 930.0L618.3 932.7M609.0 936.3L618.3 932.7L609.6 927.9" stroke="#000" stroke-width="1.4" fill="none"/>
<path d="M673.3 937.7L717.3 940.0M707.2 944.1L717.3 940.0L707.6 934.9" stroke="#000" stroke-width="1.4" fill="none"/>
<path d="M770.0 938.3L815.7 940.5M805.2 944.8L815.7 940.5L805.6 935.2" stroke="#000" stroke-width="1.4" fill="none"/>
<path d="M866.7 936.3L914.0 936.3M903.4 941.3L914.0 936.3L903.4 931.3" stroke="#000" stroke-width="1.4" fill="none"/>
<path d="M962.2 935.8L1012.5 935.8M1001.2 941.1L1012.5 935.8L1001.2 930.5" stroke="#000" stroke-width="1.4" fill="none"/>
<path d="M1058.0 935.3L1110.8 935.0M1099.0 940.6L1110.8 935.0L1098.9 929.5" stroke="#000" stroke-width="1.4" fill="none"/>
<path d="M194.0 970.0L207.5 970.5" stroke="#000" stroke-width="1.4" fill="none"/><path d="M204.4 972.0L207.5 970.5L204.5 968.8Z" fill="#000" stroke="#000" stroke-width="0.7"/>
<path d="M290.0 979.7L305.0 980.0" stroke="#000" stroke-width="1.4" fill="none"/><path d="M301.6 981.5L305.0 980.0L301.7 978.3Z" fill="#000" stroke="#000" stroke-width="0.7"/>
<path d="M386.7 988.7L400.8 989.2" stroke="#000" stroke-width="1.4" fill="none"/><path d="M397.6 990.7L400.8 989.2L397.7 987.5Z" fill="#000" stroke="#000" stroke-width="0.7"/>
<path d="M482.5 998.7L497.5 999.2" stroke="#000" stroke-width="1.4" fill="none"/><path d="M494.1 1000.7L497.5 999.2L494.2 997.5Z" fill="#000" stroke="#000" stroke-width="0.7"/>
<path d="M578.3 1011.3L594.2 1012.0" stroke="#000" stroke-width="1.4" fill="none"/><path d="M590.5 1013.5L594.2 1012.0L590.7 1010.2Z" fill="#000" stroke="#000" stroke-width="0.7"/>
<path d="M674.2 1019.5L692.5 1019.5" stroke="#000" stroke-width="1.4" fill="none"/><path d="M688.4 1021.4L692.5 1019.5L688.4 1017.6Z" fill="#000" stroke="#000" stroke-width="0.7"/>
<path d="M770.0 1018.8L801.7 1018.8" stroke="#000" stroke-width="1.4" fill="none"/><path d="M794.6 1022.1L801.7 1018.8L794.6 1015.5Z" fill="#000" stroke="#000" stroke-width="0.7"/>
<path d="M865.8 1019.5L906.7 1019.5M897.5 1023.8L906.7 1019.5L897.5 1015.2" stroke="#000" stroke-width="1.4" fill="none"/>
<path d="M962.2 1017.5L1005.8 1017.5M996.0 1022.1L1005.8 1017.5L996.0 1012.9" stroke="#000" stroke-width="1.4" fill="none"/>
<path d="M1058.0 1016.7L1104.2 1016.7M1093.8 1021.6L1104.2 1016.7L1093.8 1011.8" stroke="#000" stroke-width="1.4" fill="none"/>
</g>
<polyline points="194.0,973.3 415.0,994.0 481.7,1000.8 530.0,1008.0 581.7,1015.8 610.0,1018.0 640.0,1019.9 660.0,1022.0 770.0,1022.0 772.0,1023.0 818.0,1023.0 820.0,1023.9 912.0,1023.9 914.0,1022.5 961.7,1022.3 1001.7,1021.7 1081.7,1020.0 1130.0,1018.3 1154.7,1017.5" fill="none" stroke="#000" stroke-width="2.6"/>
</g>
<rect x="194.5" y="180.0" width="960.2" height="875.0" stroke="#000" stroke-width="1.4" fill="none"/>
<g stroke="#000" stroke-width="1" fill="none" shape-rendering="crispEdges">
<path d="M194.5 180.0v12M194.5 1055.0v-12M221.0 180.0v6M221.0 1055.0v-6M247.5 180.0v6M247.5 1055.0v-6M273.9 180.0v6M273.9 1055.0v-6M300.4 180.0v6M300.4 1055.0v-6M326.9 180.0v6M326.9 1055.0v-6M353.4 180.0v6M353.4 1055.0v-6M379.9 180.0v6M379.9 1055.0v-6M406.3 180.0v6M406.3 1055.0v-6M432.8 180.0v6M432.8 1055.0v-6M459.3 180.0v12M459.3 1055.0v-12M485.8 180.0v6M485.8 1055.0v-6M512.3 180.0v6M512.3 1055.0v-6M538.7 180.0v6M538.7 1055.0v-6M565.2 180.0v6M565.2 1055.0v-6M591.7 180.0v6M591.7 1055.0v-6M618.2 180.0v6M618.2 1055.0v-6M644.7 180.0v6M644.7 1055.0v-6M671.1 180.0v6M671.1 1055.0v-6M697.6 180.0v6M697.6 1055.0v-6M724.1 180.0v12M724.1 1055.0v-12M750.6 180.0v6M750.6 1055.0v-6M777.1 180.0v6M777.1 1055.0v-6M803.5 180.0v6M803.5 1055.0v-6M830.0 180.0v6M830.0 1055.0v-6M856.5 180.0v6M856.5 1055.0v-6M883.0 180.0v6M883.0 1055.0v-6M909.5 180.0v6M909.5 1055.0v-6M935.9 180.0v6M935.9 1055.0v-6M962.4 180.0v6M962.4 1055.0v-6M988.9 180.0v12M988.9 1055.0v-12M1015.4 180.0v6M1015.4 1055.0v-6M1041.9 180.0v6M1041.9 1055.0v-6M1068.3 180.0v6M1068.3 1055.0v-6M1094.8 180.0v6M1094.8 1055.0v-6M1121.3 180.0v6M1121.3 1055.0v-6M1147.8 180.0v6M1147.8 1055.0v-6M194.5 180.0h12M1154.7 180.0h-12M194.5 191.8h6M1154.7 191.8h-6M194.5 203.6h6M1154.7 203.6h-6M194.5 215.5h6M1154.7 215.5h-6M194.5 227.3h6M1154.7 227.3h-6M194.5 239.1h6M1154.7 239.1h-6M194.5 250.9h6M1154.7 250.9h-6M194.5 262.7h6M1154.7 262.7h-6M194.5 274.6h6M1154.7 274.6h-6M194.5 286.4h6M1154.7 286.4h-6M194.5 298.2h12M1154.7 298.2h-12M194.5 310.0h6M1154.7 310.0h-6M194.5 321.8h6M1154.7 321.8h-6M194.5 333.7h6M1154.7 333.7h-6M194.5 345.5h6M1154.7 345.5h-6M194.5 357.3h6M1154.7 357.3h-6M194.5 369.1h6M1154.7 369.1h-6M194.5 380.9h6M1154.7 380.9h-6M194.5 392.8h6M1154.7 392.8h-6M194.5 404.6h6M1154.7 404.6h-6M194.5 416.4h12M1154.7 416.4h-12M194.5 428.2h6M1154.7 428.2h-6M194.5 440.0h6M1154.7 440.0h-6M194.5 451.9h6M1154.7 451.9h-6M194.5 463.7h6M1154.7 463.7h-6M194.5 475.5h6M1154.7 475.5h-6M194.5 487.3h6M1154.7 487.3h-6M194.5 499.1h6M1154.7 499.1h-6M194.5 511.0h6M1154.7 511.0h-6M194.5 522.8h6M1154.7 522.8h-6M194.5 534.6h12M1154.7 534.6h-12M194.5 546.4h6M1154.7 546.4h-6M194.5 558.2h6M1154.7 558.2h-6M194.5 570.1h6M1154.7 570.1h-6M194.5 581.9h6M1154.7 581.9h-6M194.5 593.7h6M1154.7 593.7h-6M194.5 605.5h6M1154.7 605.5h-6M194.5 617.3h6M1154.7 617.3h-6M194.5 629.2h6M1154.7 629.2h-6M194.5 641.0h6M1154.7 641.0h-6M194.5 652.8h12M1154.7 652.8h-12M194.5 664.6h6M1154.7 664.6h-6M194.5 676.4h6M1154.7 676.4h-6M194.5 688.3h6M1154.7 688.3h-6M194.5 700.1h6M1154.7 700.1h-6M194.5 711.9h6M1154.7 711.9h-6M194.5 723.7h6M1154.7 723.7h-6M194.5 735.5h6M1154.7 735.5h-6M194.5 747.4h6M1154.7 747.4h-6M194.5 759.2h6M1154.7 759.2h-6M194.5 771.0h12M1154.7 771.0h-12M194.5 782.8h6M1154.7 782.8h-6M194.5 794.6h6M1154.7 794.6h-6M194.5 806.5h6M1154.7 806.5h-6M194.5 818.3h6M1154.7 818.3h-6M194.5 830.1h6M1154.7 830.1h-6M194.5 841.9h6M1154.7 841.9h-6M194.5 853.7h6M1154.7 853.7h-6M194.5 865.6h6M1154.7 865.6h-6M194.5 877.4h6M1154.7 877.4h-6M194.5 889.2h12M1154.7 889.2h-12M194.5 901.0h6M1154.7 901.0h-6M194.5 912.8h6M1154.7 912.8h-6M194.5 924.7h6M1154.7 924.7h-6M194.5 936.5h6M1154.7 936.5h-6M194.5 948.3h6M1154.7 948.3h-6M194.5 960.1h6M1154.7 960.1h-6M194.5 971.9h6M1154.7 971.9h-6M194.5 983.8h6M1154.7 983.8h-6M194.5 995.6h6M1154.7 995.6h-6M194.5 1007.4h12M1154.7 1007.4h-12M194.5 1019.2h6M1154.7 1019.2h-6M194.5 1031.0h6M1154.7 1031.0h-6M194.5 1042.9h6M1154.7 1042.9h-6M194.5 1054.7h6M1154.7 1054.7h-6" stroke-width="1"/>
</g>
<g shape-rendering="crispEdges">
<rect x="1190" y="180" width="20" height="54" fill="#FFFFFF"/>
<rect x="1190" y="234" width="20" height="55" fill="#9955C9"/>
<rect x="1190" y="289" width="20" height="55" fill="#FF00FF"/>
<rect x="1190" y="344" width="20" height="54" fill="#C00000"/>
<rect x="1190" y="398" width="20" height="55" fill="#D60000"/>
<rect x="1190" y="453" width="20" height="55" fill="#FF0000"/>
<rect x="1190" y="508" width="20" height="54" fill="#FF9000"/>
<rect x="1190" y="562" width="20" height="55" fill="#E7C000"/>
<rect x="1190" y="617" width="20" height="55" fill="#FFFF00"/>
<rect x="1190" y="672" width="20" height="54" fill="#009000"/>
<rect x="1190" y="726" width="20" height="55" fill="#00C800"/>
<rect x="1190" y="781" width="20" height="55" fill="#00FF00"/>
<rect x="1190" y="836" width="20" height="54" fill="#0000F6"/>
<rect x="1190" y="890" width="20" height="55" fill="#01A0F6"/>
<rect x="1190" y="945" width="20" height="55" fill="#00ECEC"/>
<rect x="1190" y="1000" width="20" height="54" fill="#FFFFFF"/>
<path d="M1190 180.5H1210M1190 234.5H1210M1190 289.5H1210M1190 344.5H1210M1190 398.5H1210M1190 453.5H1210M1190 508.5H1210M1190 562.5H1210M1190 617.5H1210M1190 672.5H1210M1190 726.5H1210M1190 781.5H1210M1190 836.5H1210M1190 890.5H1210M1190 945.5H1210M1190 1000.5H1210M1190 1054.5H1210M1190.5 180V1055M1209.5 180V1055" stroke="#000" stroke-width="1" fill="none"/>
</g>
<g font-size="22" fill="#000" stroke="#fff" stroke-width="0.2">
<text x="1222.5" y="187.5" textLength="41" lengthAdjust="spacingAndGlyphs">dBZ</text>
<text x="1222.3" y="241.8" textLength="25.5" lengthAdjust="spacingAndGlyphs">75</text>
<text x="1222.3" y="296.4" textLength="25.5" lengthAdjust="spacingAndGlyphs">70</text>
<text x="1222.3" y="351.1" textLength="25.5" lengthAdjust="spacingAndGlyphs">65</text>
<text x="1222.3" y="405.8" textLength="25.5" lengthAdjust="spacingAndGlyphs">60</text>
<text x="1222.3" y="460.4" textLength="25.5" lengthAdjust="spacingAndGlyphs">55</text>
<text x="1222.3" y="515.1" textLength="25.5" lengthAdjust="spacingAndGlyphs">50</text>
<text x="1222.3" y="569.7" textLength="25.5" lengthAdjust="spacingAndGlyphs">45</text>
<text x="1222.3" y="624.4" textLength="25.5" lengthAdjust="spacingAndGlyphs">40</text>
<text x="1222.3" y="679.1" textLength="25.5" lengthAdjust="spacingAndGlyphs">35</text>
<text x="1222.3" y="733.7" textLength="25.5" lengthAdjust="spacingAndGlyphs">30</text>
<text x="1222.3" y="788.4" textLength="25.5" lengthAdjust="spacingAndGlyphs">25</text>
<text x="1222.3" y="843.0" textLength="25.5" lengthAdjust="spacingAndGlyphs">20</text>
<text x="1222.3" y="897.7" textLength="25.5" lengthAdjust="spacingAndGlyphs">15</text>
<text x="1222.3" y="952.4" textLength="25.5" lengthAdjust="spacingAndGlyphs">10</text>
<text x="1222.3" y="1007.0" textLength="11.0" lengthAdjust="spacingAndGlyphs">5</text>
</g>
<g font-size="17.3" fill="#000">
<text x="141.0" y="185.1" textLength="32.0" lengthAdjust="spacingAndGlyphs">300</text>
<text x="141.0" y="303.3" textLength="32.0" lengthAdjust="spacingAndGlyphs">400</text>
<text x="141.0" y="421.5" textLength="32.0" lengthAdjust="spacingAndGlyphs">500</text>
<text x="141.0" y="539.7" textLength="32.0" lengthAdjust="spacingAndGlyphs">600</text>
<text x="141.0" y="657.9" textLength="32.0" lengthAdjust="spacingAndGlyphs">700</text>
<text x="141.0" y="776.1" textLength="32.0" lengthAdjust="spacingAndGlyphs">800</text>
<text x="141.0" y="894.3" textLength="32.0" lengthAdjust="spacingAndGlyphs">900</text>
<text x="130.5" y="1012.5" textLength="42.5" lengthAdjust="spacingAndGlyphs">1000</text>
<text x="190.0" y="1079" textLength="9.0" lengthAdjust="spacingAndGlyphs">0</text>
<text x="443.3" y="1079" textLength="32.0" lengthAdjust="spacingAndGlyphs">100</text>
<text x="708.1" y="1079" textLength="32.0" lengthAdjust="spacingAndGlyphs">200</text>
<text x="972.9" y="1079" textLength="32.0" lengthAdjust="spacingAndGlyphs">300</text>
</g>
<g font-size="26" fill="#000" stroke="#fff" stroke-width="0.5">
<text x="81.9" y="26.1" textLength="51.8" lengthAdjust="spacingAndGlyphs">Init:</text>
<text x="150.6" y="26.1" textLength="28.4" lengthAdjust="spacingAndGlyphs">00</text>
<text x="195.9" y="26.1" textLength="47.4" lengthAdjust="spacingAndGlyphs">UTC</text>
<text x="259.6" y="26.1" textLength="46.8" lengthAdjust="spacingAndGlyphs">Thu</text>
<text x="322.4" y="26.1" textLength="28.5" lengthAdjust="spacingAndGlyphs">03</text>
<text x="367.2" y="26.1" textLength="45.0" lengthAdjust="spacingAndGlyphs">Dec</text>
<text x="428.5" y="26.1" textLength="28.2" lengthAdjust="spacingAndGlyphs">09</text>
</g>
<g font-size="26" fill="#000" stroke="#fff" stroke-width="0.5">
<text x="1065.0" y="25.6" textLength="62.3" lengthAdjust="spacingAndGlyphs">Fcst:</text>
<text x="1169.3" y="25.6" textLength="29.0" lengthAdjust="spacingAndGlyphs">79</text>
<text x="1213.3" y="25.6" textLength="15.0" lengthAdjust="spacingAndGlyphs">h</text>
</g>
<g font-size="26" fill="#000" stroke="#fff" stroke-width="0.5">
<text x="530.0" y="51.4" textLength="71.0" lengthAdjust="spacingAndGlyphs">Valid:</text>
<text x="617.3" y="51.4" textLength="30.0" lengthAdjust="spacingAndGlyphs">07</text>
<text x="663.3" y="51.4" textLength="47.4" lengthAdjust="spacingAndGlyphs">UTC</text>
<text x="726.0" y="51.4" textLength="47.3" lengthAdjust="spacingAndGlyphs">Sun</text>
<text x="789.3" y="51.4" textLength="29.0" lengthAdjust="spacingAndGlyphs">06</text>
<text x="835.0" y="51.4" textLength="45.0" lengthAdjust="spacingAndGlyphs">Dec</text>
<text x="896.0" y="51.4" textLength="29.0" lengthAdjust="spacingAndGlyphs">09</text>
<text x="940.0" y="51.4" textLength="40.7" lengthAdjust="spacingAndGlyphs">(02</text>
<text x="996.7" y="51.4" textLength="43.3" lengthAdjust="spacingAndGlyphs">EST</text>
<text x="1056.7" y="51.4" textLength="47.3" lengthAdjust="spacingAndGlyphs">Sun</text>
<text x="1120.0" y="51.4" textLength="29.3" lengthAdjust="spacingAndGlyphs">06</text>
<text x="1165.0" y="51.4" textLength="45.7" lengthAdjust="spacingAndGlyphs">Dec</text>
<text x="1226.7" y="51.4" textLength="39.0" lengthAdjust="spacingAndGlyphs">09)</text>
</g>
<g font-size="22.5" fill="#000" stroke="#fff" stroke-width="0.5">
<text x="88.4" y="76.1" textLength="137.7" lengthAdjust="spacingAndGlyphs">Reflectivity</text>
<text x="241.9" y="76.1" textLength="63.7" lengthAdjust="spacingAndGlyphs">(dBZ)</text>
</g>
<g font-size="22.5" fill="#505050" stroke="#fff" stroke-width="0.5">
<text x="88.4" y="100.7" textLength="111.1" lengthAdjust="spacingAndGlyphs">Potential</text>
<text x="213.1" y="100.7" textLength="159.7" lengthAdjust="spacingAndGlyphs">Temperature</text>
<text x="387.6" y="100.7" textLength="32.9" lengthAdjust="spacingAndGlyphs">(K)</text>
</g>
<g font-size="22.5" fill="#000" stroke="#fff" stroke-width="0.5">
<text x="88.4" y="125.0" textLength="135.7" lengthAdjust="spacingAndGlyphs">Circulation</text>
<text x="238.9" y="125.0" textLength="91.2" lengthAdjust="spacingAndGlyphs">Vectors</text>
</g>
<g font-size="22.5" fill="#000" stroke="#fff" stroke-width="0.5">
<text x="592.0" y="1104.8" textLength="98.0" lengthAdjust="spacingAndGlyphs">Distance</text>
<text x="704.0" y="1104.8" textLength="52.0" lengthAdjust="spacingAndGlyphs">(km)</text>
</g>
<g font-size="22.5" fill="#000" stroke="#fff" stroke-width="0.5">
<text x="195.5" y="1104.5" textLength="14.5" lengthAdjust="spacingAndGlyphs">N</text>
</g>
<g font-size="22.5" fill="#000" stroke="#fff" stroke-width="0.5">
<text x="1142.3" y="1104.5" textLength="12.2" lengthAdjust="spacingAndGlyphs">S</text>
</g>
<g transform="translate(134.6,704.5) rotate(-90)" font-size="22.5" fill="#000" stroke="#fff" stroke-width="0.5"><text x="0" y="0" textLength="105" lengthAdjust="spacingAndGlyphs">Pressure</text><text x="118.5" y="0" textLength="56.5" lengthAdjust="spacingAndGlyphs">(hPa)</text></g>
<g font-size="17.5" fill="#000">
<text x="341.7" y="1172.3" textLength="78.3" lengthAdjust="spacingAndGlyphs">MAXIMUM</text>
<text x="430.0" y="1172.3" textLength="69.3" lengthAdjust="spacingAndGlyphs">VECTOR:</text>
<text x="518.3" y="1172.3" textLength="35.7" lengthAdjust="spacingAndGlyphs">34.9</text>
<text x="564.0" y="1172.3" textLength="13.7" lengthAdjust="spacingAndGlyphs">m</text>
<text x="591.7" y="1172.3" textLength="6.6" lengthAdjust="spacingAndGlyphs">s</text>
<text x="625.0" y="1172.3" textLength="65.7" lengthAdjust="spacingAndGlyphs">(HORIZ)</text>
<text x="770.0" y="1172.3" textLength="33.3" lengthAdjust="spacingAndGlyphs">13.1</text>
<text x="815.7" y="1172.3" textLength="31.0" lengthAdjust="spacingAndGlyphs">dPa</text>
<text x="857.3" y="1172.3" textLength="7.7" lengthAdjust="spacingAndGlyphs">s</text>
<text x="891.7" y="1172.3" textLength="55.6" lengthAdjust="spacingAndGlyphs">(VERT)</text>
</g>
<g font-size="11.5" fill="#000" font-weight="bold">
<text x="600.0" y="1165.5" textLength="14.0" lengthAdjust="spacingAndGlyphs">−1</text>
<text x="866.7" y="1165.5" textLength="14.0" lengthAdjust="spacingAndGlyphs">−1</text>
</g>
<g font-size="17.5" fill="#3a3a3a">
<text x="284.3" y="1190.7" textLength="95.0" lengthAdjust="spacingAndGlyphs">CONTOURS:</text>
<text x="399.0" y="1190.7" textLength="76.0" lengthAdjust="spacingAndGlyphs">UNITS=K</text>
<text x="492.7" y="1190.7" textLength="46.6" lengthAdjust="spacingAndGlyphs">LOW=</text>
<text x="557.7" y="1190.7" textLength="57.3" lengthAdjust="spacingAndGlyphs">276.00</text>
<text x="668.3" y="1190.7" textLength="54.4" lengthAdjust="spacingAndGlyphs">HIGH=</text>
<text x="742.7" y="1190.7" textLength="56.3" lengthAdjust="spacingAndGlyphs">412.00</text>
<text x="852.7" y="1190.7" textLength="93.3" lengthAdjust="spacingAndGlyphs">INTERVAL=</text>
<text x="973.3" y="1190.7" textLength="56.7" lengthAdjust="spacingAndGlyphs">4.0000</text>
</g>
<path d="M1234 1166H1137.3M1158.7 1155.7L1137.3 1166L1158.7 1176.4M1234 1166.7V1151.5" stroke="#000" stroke-width="1.6" fill="none"/>
<circle cx="1234" cy="1151.8" r="1.9" fill="#000"/>
</svg>
</body></html>
